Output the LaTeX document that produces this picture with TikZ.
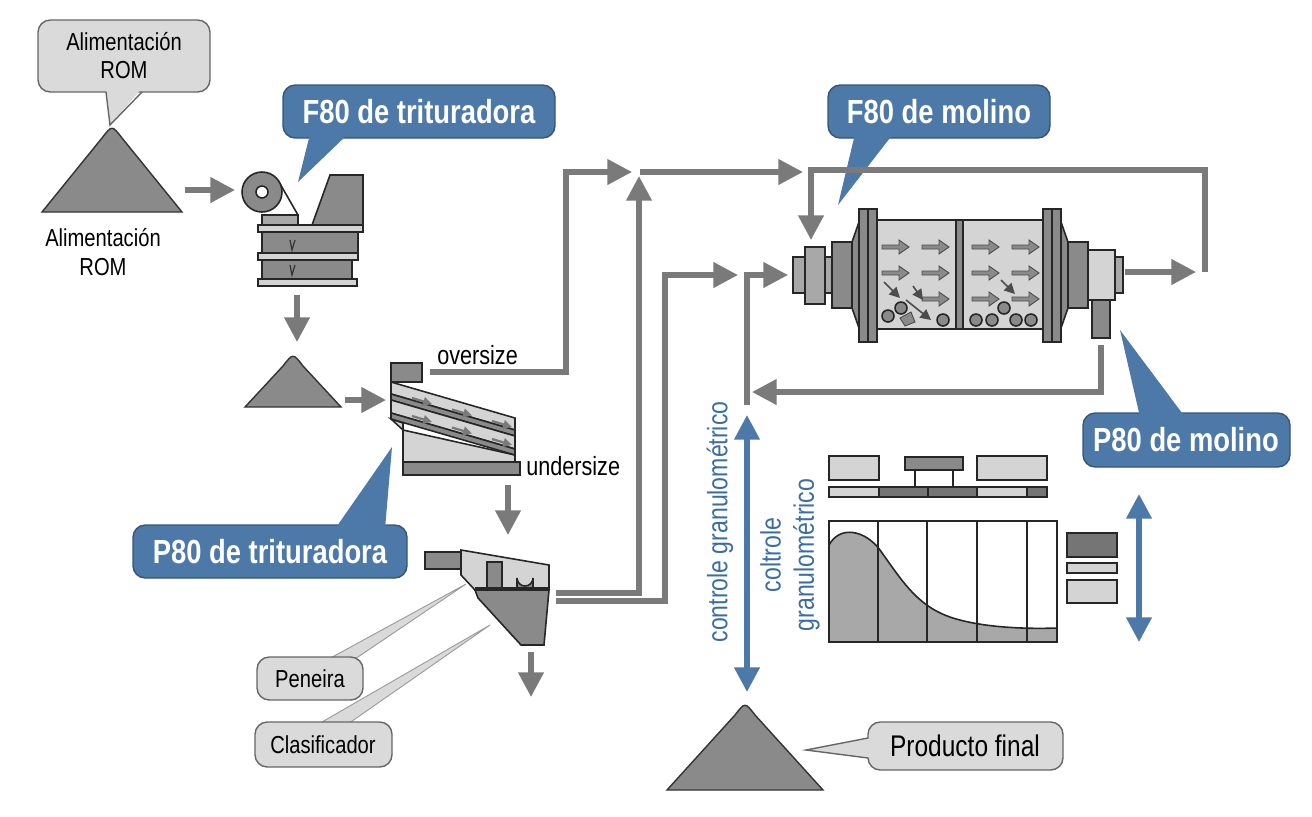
\documentclass[tikz,border=0pt]{standalone}
\usepackage{fontspec}
\setmainfont{Liberation Sans}[FakeStretch=0.82]
\usetikzlibrary{arrows.meta}
\definecolor{flow}{HTML}{7A7A7A}
\definecolor{dk}{HTML}{8A8A8A}
\definecolor{md}{HTML}{A8A8A8}
\definecolor{lt}{HTML}{D4D4D4}
\definecolor{bl}{HTML}{4C79A8}
\definecolor{bltxt}{HTML}{3A6DA5}
\definecolor{cal}{HTML}{DADADA}
\tikzset{
  flowline/.style={draw=flow,line width=3pt,-{Triangle[length=14pt,width=14pt]}},
  plainflow/.style={draw=flow,line width=3pt},
  eq/.style={draw=black!85,line width=0.9pt},
  graytxt/.style={font=\fontsize{14}{16}\selectfont,align=center,inner sep=0pt},
  bluetxt/.style={font=\fontsize{19}{20}\selectfont\bfseries,text=white,inner sep=0pt},
  grayco/.style={fill=cal,draw=black!60,line width=0.8pt,rounded corners=7pt},
  blueco/.style={fill=bl,draw=bl!70!black,line width=0.8pt,rounded corners=7pt},
  ball/.style={eq,fill=dk},
  inarrow/.style={draw=black!70,fill=dk,line width=0.5pt},
  pilest/.style={fill=dk,draw=black!80,line width=0.8pt},
}
\newcommand{\inarr}[2]{\draw[inarrow] (#1,#2-2) -- ++(17,0) -- ++(0,-5) -- ++(10,7) -- ++(-10,7) -- ++(0,-5) -- ++(-17,0) -- cycle;}
\newcommand{\mypile}[4]{\draw[pilest] (#1,#4) -- (#2-10,#3+10) .. controls (#2,#3-3) .. (#2+10,#3+10) -- (2*#2-#1,#4) -- cycle;}
\begin{document}
\begin{tikzpicture}[x=0.02cm,y=-0.02cm]
\useasboundingbox (0,0) rectangle (1312,816);

% ---------- piles ----------
\mypile{42}{112}{128}{212}
\mypile{245}{293}{356}{407}
\mypile{667}{745}{705}{790}
\node[graytxt] (romlab) at (103,252) {Alimentación\\ROM};

% ---------- callouts ----------
% Alimentacion ROM
\draw[grayco] (38,20) rectangle (210,92);
\fill[cal] (106,88) -- (110,125) -- (142,88) -- cycle;
\draw[black!60,line width=0.8pt] (106,92) -- (110,125) -- (142,92);
\node[graytxt] (romtop) at (124,56) {Alimentación\\ROM};
% F80 trituradora
\draw[blueco] (283,85) rectangle (555,138);
\fill[bl] (310,134) -- (298,182) -- (348,134) -- cycle;
\node[bluetxt] (f80t) at (419,112) {F80 de trituradora};
% F80 molino
\draw[blueco] (828,85) rectangle (1050,138);
\fill[bl] (855,134) -- (838,205) -- (893,134) -- cycle;
\node[bluetxt] (f80m) at (939,112) {F80 de molino};
% P80 molino
\draw[blueco] (1083,413) rectangle (1290,467);
\fill[bl] (1140,417) -- (1120,330) -- (1185,417) -- cycle;
\node[bluetxt] (p80m) at (1186,440) {P80 de molino};
% P80 trituradora
\draw[blueco] (133,525) rectangle (407,578);
\fill[bl] (335,529) -- (392,447) -- (385,529) -- cycle;
\node[bluetxt] (p80t) at (270,552) {P80 de trituradora};
% Peneira
\fill[cal,draw=black!40,line width=0.5pt] (325,661) -- (466,584) -- (352,661) -- cycle;
\draw[grayco] (257,657) rectangle (363,700);
\node[graytxt] (pen) at (310,679) {Peneira};
% Clasificador
\fill[cal,draw=black!40,line width=0.5pt] (315,726) -- (490,625) -- (345,726) -- cycle;
\draw[grayco] (255,722) rectangle (392,767);
\node[graytxt] (cla) at (323,745) {Clasificador};
% Producto final
\draw[grayco] (868,722) rectangle (1063,770);
\fill[cal] (872,738) -- (806,750) -- (872,758) -- cycle;
\draw[black!60,line width=0.8pt] (868,738) -- (806,750) -- (868,758);
\node[font=\fontsize{17}{18}\selectfont,inner sep=0pt] (prod) at (965,746) {Producto final};

% ---------- crusher ----------
\draw[eq,fill=dk] (312,225) -- (330,175) -- (363,175) -- (363,225) -- cycle;
\draw[eq,fill=dk] (262,232) rectangle (358,253);
\draw[eq,fill=dk] (262,260) rectangle (352,279);
\draw[eq,fill=md] (262,215) -- (298,215) -- (298,225) -- (262,225) -- cycle;
\draw[eq] (262,212) -- (248,195);
\draw[eq] (279,182) -- (298,215);
\draw[eq,fill=dk] (262,192) circle (20);
\draw[eq,fill=white] (262,192) circle (6);
\draw[eq,fill=lt] (258,225) rectangle (363,232);
\draw[eq,fill=lt] (258,253) rectangle (358,260);
\draw[eq,fill=lt] (258,279) rectangle (357,286);
\draw[black!80,line width=0.7pt] (290,240) -- (292,250) -- (295,240);
\draw[black!80,line width=0.7pt] (290,265) -- (292,275) -- (295,265);
\coordinate (crusher) at (310,230);

% ---------- screen ----------
\draw[eq,fill=lt] (403,430) -- (515,455) -- (515,462) -- (403,462) -- cycle;
\draw[eq,fill=dk] (403,462) rectangle (520,475);
\draw[eq,fill=dk] (391,363) rectangle (422,382);
\draw[eq,fill=lt] (391,382) -- (515,418) -- (515,430) -- (391,394) -- cycle;
\draw[eq,fill=dk] (391,394) -- (515,430) -- (515,436) -- (391,400) -- cycle;
\draw[eq,fill=lt] (391,400) -- (515,436) -- (515,449) -- (391,413) -- cycle;
\draw[eq,fill=dk] (391,413) -- (515,449) -- (515,455) -- (391,419) -- cycle;
\draw[eq,fill=lt] (391,419) -- (403,430) -- (403,423) -- cycle;
\foreach \x in {0,1,2}{
  \draw[flow,line width=1.3pt,-{Triangle[length=5pt,width=5pt]}] (412+\x*40,398+\x*11.5) -- ++(20,6);
  \draw[flow,line width=1.3pt,-{Triangle[length=5pt,width=5pt]}] (412+\x*40,416+\x*11.5) -- ++(20,6);
}
\node[graytxt,font=\fontsize{15}{16}\selectfont,anchor=south west] (over) at (437,365) {oversize};
\node[graytxt,font=\fontsize{15}{16}\selectfont,anchor=west] (under) at (526,466) {undersize};

% ---------- classifier ----------
\draw[eq,fill=dk] (425,552) rectangle (461,569);
\draw[eq,fill=lt] (461,550) -- (549,565) -- (549,590) -- (475,590) -- (461,575) -- cycle;
\draw[eq,fill=dk] (487,562) rectangle (502,590);
\draw[eq,fill=dk] (517,590) -- (517,578) arc (180:0:8) -- (533,590) -- cycle;
\draw[eq,fill=dk] (475,590) -- (549,590) -- (544,645) -- (521,645) -- (478,598) -- cycle;
\draw[eq] (475,588) -- (549,588);

% ---------- mill ----------
\draw[eq,fill=md] (793,257) rectangle (805,293);
\draw[eq,fill=md] (805,247) rectangle (825,304);
\draw[eq,fill=md] (825,257) rectangle (832,293);
\draw[eq,fill=dk] (832,242) rectangle (852,308);
\draw[eq,fill=dk] (852,242) -- (859,222) -- (859,328) -- (852,308) -- cycle;
\draw[eq,fill=lt] (877,220) rectangle (1043,329);
\draw[eq,fill=dk] (956,220) rectangle (963,329);
\draw[eq,fill=dk] (859,209) rectangle (877,342);
\draw[eq] (868,209) -- (868,342);
\draw[eq,fill=dk] (1043,209) rectangle (1061,342);
\draw[eq] (1052,209) -- (1052,342);
\draw[eq,fill=dk] (1061,222) -- (1068,242) -- (1068,308) -- (1061,328) -- cycle;
\draw[eq,fill=dk] (1068,242) rectangle (1088,308);
\draw[eq,fill=md] (1115,257) rectangle (1123,293);
\draw[eq,fill=lt] (1088,250) rectangle (1115,300);
\draw[eq,fill=dk] (1092,300) rectangle (1110,338);
\foreach \y in {247,273,299}{\inarr{972}{\y}\inarr{1012}{\y}}
\inarr{882}{247}\inarr{922}{247}\inarr{882}{273}\inarr{922}{273}\inarr{922}{299}
\foreach \p in {(888,316),(901,308),(943,320),(976,320),(992,320),(1004,308),(1016,320),(1031,320)}{\draw[ball] \p circle (6);}
\draw[inarrow] (900,318) -- (911,312) -- (915,322) -- (905,326) -- cycle;
\draw[draw=black!70,line width=0.9pt,-{Triangle[length=6pt,width=6pt]}] (884,282) -- (900,298);
\draw[draw=black!70,line width=0.9pt,-{Triangle[length=6pt,width=6pt]}] (913,286) -- (923,300);
\draw[draw=black!70,line width=0.9pt,-{Triangle[length=6pt,width=6pt]}] (906,300) -- (931,320);
\draw[draw=black!70,line width=0.9pt,-{Triangle[length=6pt,width=6pt]}] (1001,280) -- (1015,294);
\coordinate (mill) at (960,275);

% ---------- flow lines ----------
\draw[flowline] (185,190) -- (235,190);
\draw[flowline] (297,295) -- (297,342);
\draw[flowline] (345,400) -- (386,400);
\draw[flowline] (430,372) -- (566,372) -- (566,172) -- (632,172);
\draw[flowline] (640,172) -- (803,172);
\draw[flowline] (556,593) -- (639,593) -- (639,176);
\draw[flowline] (1205,272) |- (811,170) -- (811,240);
\draw[flowline] (556,601) -- (665,601) -- (665,275) -- (738,275);
\draw[flowline] (747,405) -- (747,275) -- (788,275);
\draw[flowline] (1101,345) |- (752,392);
\draw[flowline] (1125,272) -- (1196,272);
\draw[flowline] (508,485) -- (508,535);
\draw[flowline] (531,652) -- (531,697);

% ---------- controle granulometrico ----------
\draw[bl,line width=3pt,{Triangle[length=14pt,width=14pt]}-{Triangle[length=14pt,width=14pt]}] (747,415) -- (747,692);
\node[rotate=90,text=bltxt,font=\fontsize{16}{17}\selectfont,inner sep=0pt] (cg1) at (720,522) {controle granulométrico};
\node[rotate=90,text=bltxt,font=\fontsize{16}{19}\selectfont,align=center,inner sep=0pt] (cg2) at (790,555) {coltrole\\granulométrico};

% ---------- chart ----------
\draw[eq,fill=lt] (829,456) rectangle (879,480);
\draw[eq] (915,470) -- (915,487);
\draw[eq] (953,470) -- (953,487);
\draw[eq,fill=dk] (905,457) rectangle (963,470);
\draw[eq,fill=lt] (977,456) rectangle (1047,480);
\draw[eq,fill=lt] (829,487) rectangle (879,497);
\draw[eq,fill=dk!85!black] (879,487) rectangle (928,497);
\draw[eq,fill=dk!85!black] (928,487) rectangle (977,497);
\draw[eq,fill=lt] (977,487) rectangle (1027,497);
\draw[eq,fill=dk!85!black] (1027,487) rectangle (1047,497);
\fill[md] (829,545) .. controls (840,525) and (865,530) .. (880,550)
  .. controls (905,585) and (920,610) .. (960,620)
  .. controls (990,628) and (1030,629) .. (1057,628) -- (1057,642) -- (829,642) -- cycle;
\draw[eq] (829,545) .. controls (840,525) and (865,530) .. (880,550)
  .. controls (905,585) and (920,610) .. (960,620)
  .. controls (990,628) and (1030,629) .. (1057,628);
\draw[eq] (829,521) rectangle (1057,642);
\foreach \x in {878,927,977,1027}{\draw[eq] (\x,521) -- (\x,642);}
\draw[eq,fill=dk!85!black] (1067,533) rectangle (1117,557);
\draw[eq,fill=lt] (1067,563) rectangle (1117,573);
\draw[eq,fill=lt] (1067,580) rectangle (1117,603);
\draw[bl,line width=3pt,{Triangle[length=14pt,width=14pt]}-{Triangle[length=14pt,width=14pt]}] (1139,494) -- (1139,642);
\end{tikzpicture}
\end{document}
